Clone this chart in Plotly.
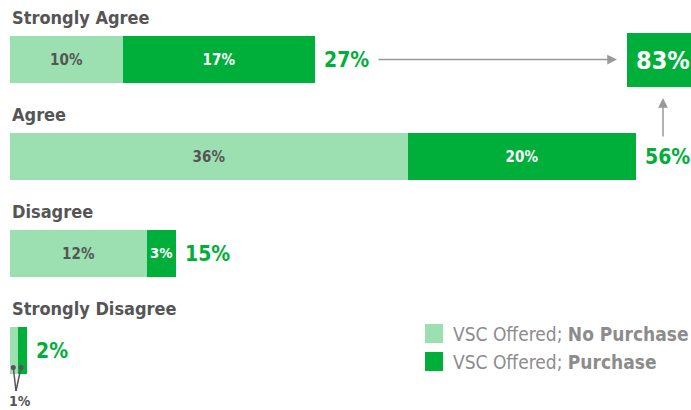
import plotly.graph_objects as go

categories = ["Strongly Agree", "Agree", "Disagree", "Strongly Disagree"]
# estimated shares (%); labels show them rounded
no_purchase = [10.1, 35.7, 12.3, 0.7]
purchase = [17.2, 20.4, 2.6, 0.8]
series_names = ["VSC Offered; <b>No Purchase</b>", "VSC Offered; <b>Purchase</b>"]

LIGHT = "#9CDFB0"
DARK = "#00AF3A"
GREEN_TXT = "#00AF3A"
GREY = "#555555"
FONT = "DejaVu Sans Condensed, Noto Sans, sans-serif"

W, H = 691, 410
L = 10
SCALE = 11.16  # px per percent
XMAX = (W - L) / SCALE
Y0PX, YSTEP = 59.5, 97.0
YMIN = -Y0PX / YSTEP
YMAX = (H - Y0PX) / YSTEP


def px2x(px):
    return (px - L) / SCALE


def py2y(py):
    return (py - Y0PX) / YSTEP


def pct(v):
    return f"{int(v + 0.5)}%"


ypos = list(range(len(categories)))
totals = [a + b for a, b in zip(no_purchase, purchase)]


def inner(vals):
    return [pct(v) if v >= 2 else "" for v in vals]


fig = go.Figure()
fig.add_trace(go.Bar(
    y=ypos, x=no_purchase, orientation="h", width=0.485, name=series_names[0],
    marker=dict(color=LIGHT, line=dict(width=0)),
    text=inner(no_purchase), textposition="inside", insidetextanchor="middle", textangle=0,
    insidetextfont=dict(color=GREY, size=15, family=FONT, weight="bold"),
    showlegend=False, hoverinfo="skip",
))
fig.add_trace(go.Bar(
    y=ypos, x=purchase, orientation="h", width=0.485, name=series_names[1],
    marker=dict(color=DARK, line=dict(width=0)),
    text=inner(purchase), textposition="inside", insidetextanchor="middle", textangle=0,
    insidetextfont=dict(color="white", size=15, family=FONT, weight="bold"),
    showlegend=False, hoverinfo="skip",
))

ann = []
# category labels
for i, c in enumerate(categories):
    ann.append(dict(x=0, y=i - 0.438, xref="x", yref="y", text=f"<b>{c}</b>", showarrow=False,
                    xanchor="left", yanchor="middle", xshift=0,
                    font=dict(size=18, color=GREY, family=FONT)))
# totals
for i, t in enumerate(totals):
    ann.append(dict(x=t, y=i, xref="x", yref="y", text=f"<b>{pct(t)}</b>", showarrow=False,
                    xanchor="left", yanchor="middle", xshift=7,
                    font=dict(size=21, color=GREEN_TXT, family=FONT)))

top2 = totals[0] + totals[1]
shapes = [dict(type="rect", xref="x", yref="y", x0=px2x(627), x1=px2x(691),
               y0=py2y(33), y1=py2y(87), fillcolor=DARK, line=dict(width=0), layer="above")]
ann.append(dict(x=px2x(663), y=py2y(60), xref="x", yref="y", text=f"<b>{pct(top2)}</b>", showarrow=False,
                font=dict(size=25, color="white", family=FONT)))
# arrows
ann.append(dict(x=px2x(617), y=0, ax=px2x(377), ay=0, xref="x", yref="y", axref="x", ayref="y",
                text="", showarrow=True, arrowhead=2, arrowsize=1.3, arrowwidth=1.5, arrowcolor="#999999"))
ann.append(dict(x=px2x(663), y=py2y(98), ax=px2x(663), ay=py2y(138), xref="x", yref="y", axref="x", ayref="y",
                text="", showarrow=True, arrowhead=2, arrowsize=1.3, arrowwidth=1.5, arrowcolor="#999999"))
# 1% callout (V connector with dots)
apex_x, apex_y = px2x(16), py2y(391)
dot_y = py2y(367.5)
for dx in [13.3, 21]:
    shapes.append(dict(type="line", xref="x", yref="y", x0=px2x(dx), y0=dot_y, x1=apex_x, y1=apex_y,
                       line=dict(color=GREY, width=1.5), layer="above"))
    shapes.append(dict(type="circle", xref="x", yref="y", x0=px2x(dx - 2.5), x1=px2x(dx + 2.5),
                       y0=py2y(367.5 - 2.5), y1=py2y(367.5 + 2.5), fillcolor=GREY,
                       line=dict(width=0), layer="above"))
ann.append(dict(x=px2x(20), y=py2y(401), xref="x", yref="y", text=f"<b>{pct(no_purchase[3])}</b>",
                showarrow=False, font=dict(size=14, color=GREY, family=FONT)))

# custom legend
for k, (nm, col) in enumerate(zip(series_names, [LIGHT, DARK])):
    yc = 333.5 + 28 * k
    shapes.append(dict(type="rect", xref="x", yref="y", x0=px2x(425), x1=px2x(443),
                       y0=py2y(yc - 9.5), y1=py2y(yc + 9.5), fillcolor=col, line=dict(width=0)))
    ann.append(dict(x=px2x(451), y=py2y(yc), xref="x", yref="y", text=nm, showarrow=False,
                    xanchor="left", yanchor="middle", font=dict(size=19, color="#8C8C8C", family=FONT)))

fig.update_layout(
    width=W, height=H, margin=dict(l=L, r=0, t=0, b=0),
    paper_bgcolor="white", plot_bgcolor="white",
    barmode="stack", bargap=0,
    xaxis=dict(range=[0, XMAX], visible=False, fixedrange=True),
    yaxis=dict(range=[YMAX, YMIN], visible=False, fixedrange=True),
    annotations=ann, shapes=shapes,
    font=dict(family=FONT),
)
fig.write_html("out.html", config={"displayModeBar": False},
               post_script="document.body.style.margin='0';document.body.style.overflow='hidden';")
